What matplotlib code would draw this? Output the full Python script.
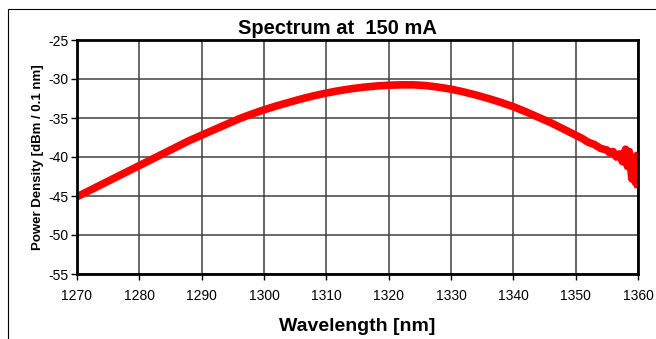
import matplotlib.pyplot as plt
from matplotlib.patches import Rectangle

# valores
longitudes = [1270, 1272, 1274, 1276, 1278, 1280, 1282, 1284, 1286, 1288,
              1290, 1292, 1294, 1296, 1298, 1300, 1302, 1304, 1306, 1308,
              1310, 1312, 1314, 1316, 1318, 1320, 1322, 1324, 1326, 1328,
              1330, 1332, 1334, 1336, 1338, 1340, 1342, 1344, 1346, 1348,
              1350, 1351, 1352, 1353, 1354, 1355, 1355.5, 1356, 1356.5, 1357,
              1357.5, 1358, 1358.3, 1358.6, 1359, 1359.3, 1359.6, 1359.8, 1360]
potencia = [-45.1, -44.3, -43.5, -42.7, -41.9, -41.1, -40.3, -39.5, -38.7, -37.9,
            -37.2, -36.5, -35.8, -35.1, -34.5, -33.95, -33.45, -33.0, -32.55, -32.15,
            -31.8, -31.5, -31.25, -31.05, -30.9, -30.8, -30.75, -30.75, -30.85, -31.05,
            -31.3, -31.65, -32.05, -32.5, -33.0, -33.55, -34.2, -34.9, -35.6, -36.4,
            -37.2, -37.6, -38.1, -38.4, -38.9, -39.1, -39.5, -39.3, -40.0, -39.6,
            -40.6, -39.0, -41.2, -39.3, -42.8, -40.5, -43.3, -39.8, -44.0]

xticks = [1270, 1280, 1290, 1300, 1310, 1320, 1330, 1340, 1350, 1360]
yticks = [-55, -50, -45, -40, -35, -30, -25]

plt.rcParams['font.family'] = ['Liberation Sans', 'DejaVu Sans']
plt.rcParams['axes.unicode_minus'] = False

fig = plt.figure(figsize=(6.56, 3.39), dpi=100)
ax = fig.add_axes([77/656, 1 - 274/339, (638 - 77)/656, (274 - 40)/339])

# marco exterior
fig.patches.append(Rectangle((8/656, -0.05), 1.2, (339 - 9)/339 + 0.05,
                             transform=fig.transFigure, fill=False,
                             edgecolor='black', linewidth=0.8))

ax.plot(longitudes, potencia, color='#ff0000', linewidth=5.5, solid_capstyle='butt')

ax.set_xlim(1270, 1360)
ax.set_ylim(-55, -25)
ax.set_xticks(xticks)
ax.set_yticks(yticks)
ax.grid(True, color='#404040', linewidth=1.1)
ax.set_axisbelow(True)
for s in ax.spines.values():
    s.set_linewidth(2)
ax.tick_params(direction='out', length=4, width=1, labelsize=10)
ax.tick_params(axis='x', pad=7)
ax.tick_params(axis='y', pad=2)

ax.set_title('Spectrum at  150 mA', fontsize=14.5, fontweight='bold', pad=4, x=0.465)
ax.set_xlabel('Wavelength [nm]', fontsize=14, fontweight='bold', labelpad=10.5)
ax.set_ylabel('Power Density [dBm / 0.1 nm]', fontsize=9.5, fontweight='bold', labelpad=3)

fig.savefig('out.png', dpi=100)
